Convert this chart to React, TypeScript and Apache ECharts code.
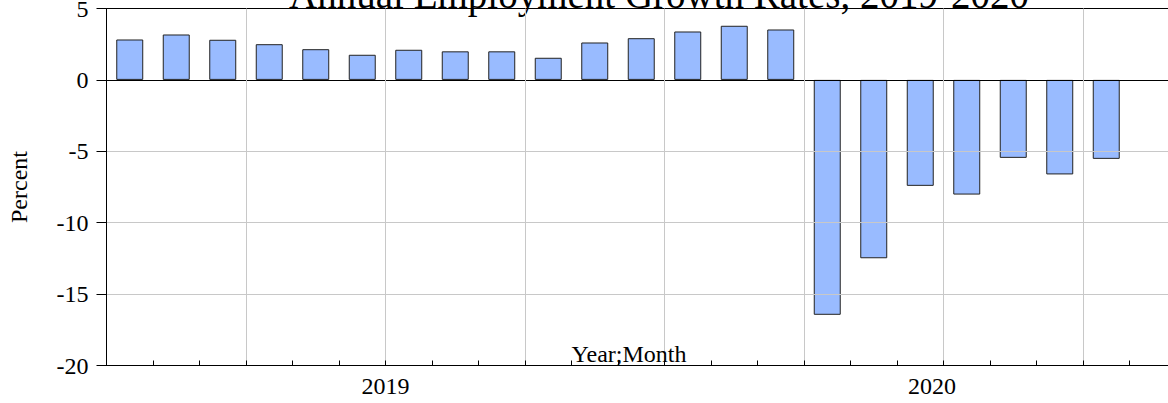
import React, { useEffect, useRef } from "react";
import * as echarts from "echarts";

// Months Jan 2019 .. Oct 2020
const months = [
  "Jan 2019", "Feb 2019", "Mar 2019", "Apr 2019", "May 2019", "Jun 2019",
  "Jul 2019", "Aug 2019", "Sep 2019", "Oct 2019", "Nov 2019", "Dec 2019",
  "Jan 2020", "Feb 2020", "Mar 2020", "Apr 2020", "May 2020", "Jun 2020",
  "Jul 2020", "Aug 2020", "Sep 2020", "Oct 2020",
];
// Annual employment growth rate, percent
const growth = [
  2.83, 3.18, 2.81, 2.5, 2.15, 1.76, 2.11, 2.0, 2.0, 1.55, 2.62, 2.92,
  3.39, 3.79, 3.53, -16.45, -12.49, -7.42, -8.03, -5.46, -6.62, -5.53,
];
const years = ["2019", "2020"];
// where each year label sits, in months from Jan 2019
const yearLabelAt = [6, 17.75];
const yTicks = [-20, -15, -10, -5, 0, 5];

const titleText = "Annual Employment Growth Rates, 2019-2020";
const FONT = "Liberation Serif";

export default function App() {
  const ref = useRef<HTMLDivElement>(null);
  useEffect(() => {
    if (!ref.current) return;
    const chart = echarts.init(ref.current, undefined, { renderer: "svg" });
    const gridColor = "#c8c8c8";
    chart.setOption({
      animation: false,
      backgroundColor: "#ffffff",
      textStyle: { fontFamily: FONT },
      grid: {
        left: 106.5,
        top: 8.5,
        width: 1116,
        height: 357,
        containLabel: false,
        outerBoundsMode: "none",
      },
      graphic: [
        {
          type: "text",
          x: 659,
          y: -5.7,
          silent: true,
          style: {
            text: titleText,
            font: `39px ${FONT}`,
            fill: "#000",
            textAlign: "center",
            textVerticalAlign: "middle",
          },
        },
        {
          type: "text",
          x: 629,
          y: 354,
          z: 10,
          silent: true,
          style: {
            text: "Year;Month",
            font: `24px ${FONT}`,
            fill: "#000",
            textAlign: "center",
            textVerticalAlign: "middle",
          },
        },
      ],
      xAxis: [
        {
          type: "category",
          data: months,
          max: months.length + 1,
          boundaryGap: true,
          z: 5,
          axisLine: { show: true, onZero: false, lineStyle: { color: "#000", width: 1 } },
          axisTick: { show: true, inside: true, length: 5, interval: 0, lineStyle: { color: "#000" } },
          axisLabel: { show: false },
          splitLine: {
            show: true,
            interval: (i: number) => i % 3 === 0,
            lineStyle: { color: gridColor, width: 1 },
          },
        },
        {
          type: "value",
          position: "bottom",
          min: 0,
          max: months.length + 2,
          axisLine: { show: false },
          axisTick: { show: false },
          splitLine: { show: false },
          axisLabel: {
            show: true,
            customValues: yearLabelAt,
            formatter: (v: number) => years[Math.floor(v / 12)] ?? "",
            fontSize: 24,
            fontFamily: FONT,
            color: "#000",
            margin: 20,
            verticalAlign: "middle",
          },
        },
      ],
      yAxis: {
        type: "value",
        min: yTicks[0],
        max: yTicks[yTicks.length - 1],
        interval: 5,
        z: 5,
        name: "Percent",
        nameLocation: "middle",
        nameRotate: 90,
        nameGap: 76,
        nameTextStyle: { fontSize: 24, fontFamily: FONT, color: "#000" },
        axisLine: { show: true, lineStyle: { color: "#000", width: 1 } },
        axisTick: { show: true, inside: false, length: 10, lineStyle: { color: "#000" } },
        axisLabel: { fontSize: 24, fontFamily: FONT, color: "#000", margin: 18 },
        splitLine: {
          show: true,
          lineStyle: {
            color: yTicks.map((t) => (t >= 0 ? "#000000" : gridColor)),
            width: 1,
          },
        },
      },
      series: [
        {
          type: "bar",
          xAxisIndex: 0,
          yAxisIndex: 0,
          data: growth,
          barWidth: "58%",
          z: 2,
          itemStyle: { color: "#99bbff", borderColor: "#222222", borderWidth: 1 },
        },
      ],
    });
    return () => chart.dispose();
  }, []);
  return (
    <div
      ref={ref}
      style={{ position: "fixed", left: 0, top: 0, width: 1168, height: 403, background: "#fff" }}
    />
  );
}
